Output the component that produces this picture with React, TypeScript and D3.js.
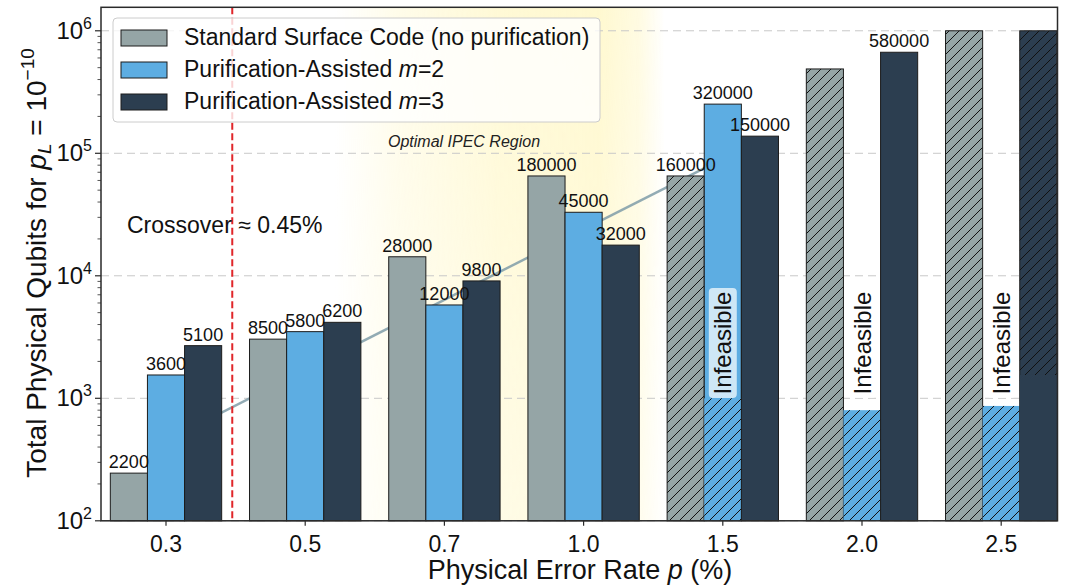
import React from "react";
import * as d3 from "d3";

const categories = ["0.3", "0.5", "0.7", "1.0", "1.5", "2.0", "2.5"];
const standardValues = [245, 3040, 14300, 65300, 65300, 488000, 1000000];
const m2Values: (number | null)[] = [1550, 3500, 5780, 33000, 252000, null, null];
const m3Values = [2690, 4170, 9080, 17800, 138000, 668000, 1550];
const standardLabels = ["2200", "8500", "28000", "180000", "160000", "", ""];
const m2Labels = ["3600", "5800", "12000", "45000", "320000", "", ""];
const m3Labels = ["5100", "6200", "9800", "32000", "150000", "580000", ""];
const standardInfeasible = [false, false, false, false, true, true, true];
const m2InfeasibleValues: (number | null)[] = [null, null, null, null, 1000, 800, 866];
const m3InfeasibleValues: (number | null)[] = [null, null, null, null, null, null, 1000000];
const infeasibleCats = ["1.5", "2.0", "2.5"];
const yTickExponents = [2, 3, 4, 5, 6];
const trendCats = ["0.3", "1.5"];
const trendValues = [450, 90000];
const crossoverIndex = 0.476;
const seriesNames = [
  "Standard Surface Code (no purification)",
  "Purification-Assisted ",
  "Purification-Assisted ",
];
const seriesColors = ["#95a5a6", "#5dade2", "#2c3e50"];

const W = 1067;
const H = 586;
const FONT = "'Liberation Sans', Arial, Helvetica, sans-serif";

export default function App() {
  const left = 101;
  const right = 1057.5;
  const top = 7.3;
  const bottom = 520.8;
  const x = d3.scalePoint<string>().domain(categories).range([166, 1001.2]);
  const step = x.step();
  const barW = (step * 0.8) / 3;
  const y = d3.scaleLog().domain([100, 1.555e6]).range([bottom, top]);
  const idxX = d3.scaleLinear().domain([0, categories.length - 1]).range([166, 1001.2]);

  const barX = (cat: string, k: number) => (x(cat) as number) + (k - 1) * barW - barW / 2;

  const minorTicks: number[] = [];
  for (let e = 2; e < 7; e++) {
    for (let m = 2; m <= 9; m++) {
      const v = m * Math.pow(10, e);
      if (v <= 1.555e6) minorTicks.push(v);
    }
  }

  const line = d3
    .line<number>()
    .x((_, i) => x(trendCats[i]) as number)
    .y((d) => y(d));

  const allSeries = [standardValues, m2Values, m3Values];
  const allLabels = [standardLabels, m2Labels, m3Labels];

  const plainBar = (v: number | null, cat: string, k: number, key: string) =>
    v == null ? null : (
      <rect
        key={key}
        x={barX(cat, k)}
        y={y(v)}
        width={barW}
        height={bottom - y(v)}
        fill={seriesColors[k]}
        stroke="#1c1c1c"
        strokeWidth={1}
      />
    );

  const hatchBar = (v: number | null, cat: string, k: number, key: string, outline: boolean) =>
    v == null ? null : (
      <g key={key}>
        <rect x={barX(cat, k)} y={y(v)} width={barW} height={bottom - y(v)} fill={seriesColors[k]} />
        <rect x={barX(cat, k)} y={y(v)} width={barW} height={bottom - y(v)} fill="url(#hatch)" />
        {outline && (
          <rect
            x={barX(cat, k)}
            y={y(v)}
            width={barW}
            height={bottom - y(v)}
            fill="none"
            stroke="#1c1c1c"
            strokeWidth={1}
          />
        )}
      </g>
    );

  return (
    <div style={{ position: "absolute", left: 0, top: 0, width: W, height: H, background: "#fff" }}>
      <svg width={W} height={H} style={{ display: "block", fontFamily: FONT }}>
        <defs>
          <pattern id="hatch" patternUnits="userSpaceOnUse" width={10} height={10}>
            <path d="M-2.5,2.5 l5,-5 M0,10 l10,-10 M7.5,12.5 l5,-5" stroke="#111" strokeWidth={1} />
          </pattern>
          <linearGradient id="glowH" x1="0" x2="1" y1="0" y2="0">
            <stop offset="0" stopColor="#fff4b0" stopOpacity={0} />
            <stop offset="0.18" stopColor="#fff4b0" stopOpacity={0.35} />
            <stop offset="0.5" stopColor="#fff4b0" stopOpacity={0.7} />
            <stop offset="0.8" stopColor="#fff4b0" stopOpacity={0.8} />
            <stop offset="0.92" stopColor="#fff4b0" stopOpacity={0.5} />
            <stop offset="1" stopColor="#fff4b0" stopOpacity={0} />
          </linearGradient>
          <linearGradient id="glowV" x1="0" x2="0" y1="0" y2="1">
            <stop offset="0" stopColor="#fff" stopOpacity={0.75} />
            <stop offset="1" stopColor="#fff" stopOpacity={0.45} />
          </linearGradient>
          <mask id="glowMask">
            <rect x={left} y={top} width={right - left} height={bottom - top} fill="url(#glowV)" />
          </mask>
        </defs>

        {/* highlighted region */}
        <rect x={335} y={top} width={330} height={bottom - top} fill="url(#glowH)" mask="url(#glowMask)" />

        {/* grid */}
        {yTickExponents.map((e) => (
          <line
            key={"g" + e}
            x1={left}
            x2={right}
            y1={y(Math.pow(10, e))}
            y2={y(Math.pow(10, e))}
            stroke="#c8c8c8"
            strokeWidth={1}
            strokeDasharray="8,5"
          />
        ))}

        {/* trend line */}
        <path d={line(trendValues) as string} fill="none" stroke="#7f9ca8" strokeWidth={2.5} strokeOpacity={0.85} />

        {/* bars */}
        {categories.map((cat, i) => (
          <g key={cat}>
            {standardInfeasible[i]
              ? hatchBar(standardValues[i], cat, 0, "s" + i, true)
              : plainBar(standardValues[i], cat, 0, "s" + i)}
            {plainBar(m2Values[i], cat, 1, "b" + i)}
            {hatchBar(m2InfeasibleValues[i], cat, 1, "bh" + i, false)}
            {hatchBar(m3InfeasibleValues[i], cat, 2, "nh" + i, true)}
            {m3InfeasibleValues[i] != null ? (
              <rect
                x={barX(cat, 2)}
                y={y(m3Values[i])}
                width={barW}
                height={bottom - y(m3Values[i])}
                fill={seriesColors[2]}
              />
            ) : (
              plainBar(m3Values[i], cat, 2, "n" + i)
            )}
          </g>
        ))}

        {/* crossover line */}
        <line
          x1={idxX(crossoverIndex)}
          x2={idxX(crossoverIndex)}
          y1={top}
          y2={bottom}
          stroke="#e0262a"
          strokeWidth={2}
          strokeDasharray="7,3.5"
        />

        {/* value labels */}
        {categories.map((cat, i) =>
          allSeries.map((s, k) => {
            const v = s[i];
            const lab = allLabels[k][i];
            if (v == null || !lab) return null;
            return (
              <text
                key={"l" + i + "-" + k}
                x={barX(cat, k) + barW / 2}
                y={y(v) - 5}
                textAnchor="middle"
                fontSize={18}
                fill="#111"
              >
                {lab}
              </text>
            );
          })
        )}

        {/* infeasible labels */}
        {infeasibleCats.map((cat) => (
          <g key={"inf" + cat} transform={`translate(${barX(cat, 1) + barW / 2},343) rotate(-90)`}>
            <rect x={-55} y={-14} width={110} height={28} rx={4} fill="#fff" fillOpacity={0.7} />
            <text textAnchor="middle" dominantBaseline="central" fontSize={24} fill="#111">
              Infeasible
            </text>
          </g>
        ))}

        {/* annotations */}
        <text x={127} y={233} fontSize={23} fill="#111">
          Crossover ≈ 0.45%
        </text>
        <text x={464} y={147} fontSize={16} fontStyle="italic" textAnchor="middle" fill="#222">
          Optimal IPEC Region
        </text>

        {/* frame */}
        <rect x={left} y={top} width={right - left} height={bottom - top} fill="none" stroke="#2a2a2a" strokeWidth={1.5} />

        {/* y ticks */}
        {yTickExponents.map((e) => (
          <g key={"yt" + e}>
            <line x1={left - 6} x2={left} y1={y(Math.pow(10, e))} y2={y(Math.pow(10, e))} stroke="#2a2a2a" strokeWidth={1.2} />
            <text x={left - 9} y={y(Math.pow(10, e)) + 8} textAnchor="end" fontSize={24} fill="#111">
              10
              <tspan dy={-10} fontSize={16}>
                {e}
              </tspan>
            </text>
          </g>
        ))}
        {minorTicks.map((v) => (
          <line key={"m" + v} x1={left - 3.5} x2={left} y1={y(v)} y2={y(v)} stroke="#2a2a2a" strokeWidth={0.8} />
        ))}

        {/* x ticks */}
        {categories.map((cat) => (
          <g key={"xt" + cat}>
            <line x1={x(cat)} x2={x(cat)} y1={bottom} y2={bottom + 5} stroke="#2a2a2a" strokeWidth={1.2} />
            <text x={x(cat)} y={552} textAnchor="middle" fontSize={23} fill="#111">
              {cat}
            </text>
          </g>
        ))}

        {/* axis labels */}
        <text x={580} y={579} textAnchor="middle" fontSize={27} fill="#111">
          Physical Error Rate <tspan fontStyle="italic">p</tspan> (%)
        </text>
        <text transform="translate(46,263) rotate(-90)" textAnchor="middle" fontSize={28} fill="#111">
          Total Physical Qubits for <tspan fontStyle="italic">p</tspan>
          <tspan fontStyle="italic" fontSize={19} dy={5}>
            L
          </tspan>
          <tspan dy={-5}> = 10</tspan>
          <tspan fontSize={19} dy={-12}>
            −10
          </tspan>
        </text>

        {/* legend */}
        <g>
          <rect x={113} y={18} width={487} height={104} rx={4} fill="#fff" fillOpacity={0.8} stroke="#cccccc" strokeWidth={1} />
          {seriesNames.map((name, k) => (
            <g key={"lg" + k}>
              <rect x={121} y={30 + k * 32} width={46} height={16} fill={seriesColors[k]} stroke="#1c1c1c" strokeWidth={1} />
              <text x={184} y={45 + k * 32} fontSize={23} fill="#111">
                {name}
                {k > 0 && (
                  <>
                    <tspan fontStyle="italic">m</tspan>={k + 1}
                  </>
                )}
              </text>
            </g>
          ))}
        </g>
      </svg>
    </div>
  );
}
